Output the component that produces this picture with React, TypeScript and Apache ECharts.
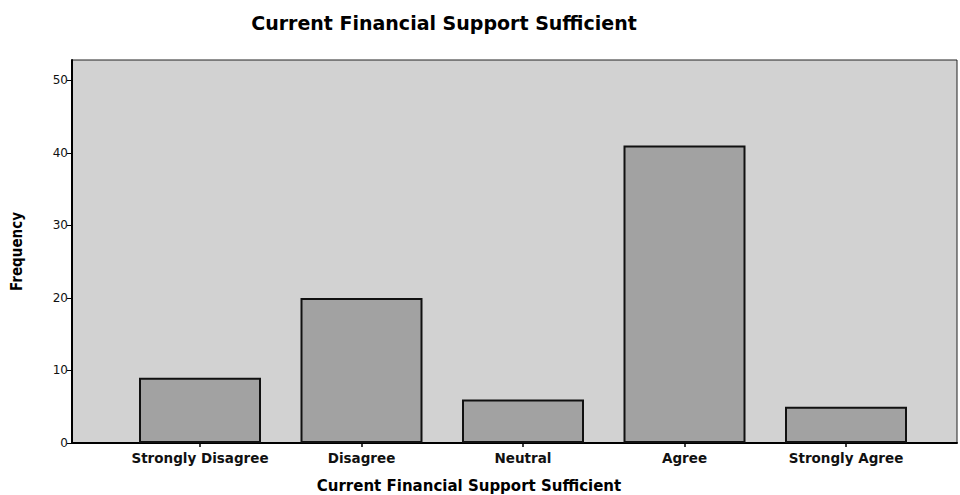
import React, { useEffect, useRef } from "react";
import * as echarts from "echarts";

const categories = ["Strongly Disagree", "Disagree", "Neutral", "Agree", "Strongly Agree"];
const frequencies = [9, 20, 6, 41, 5];
const yTicks = [0, 10, 20, 30, 40, 50];
const titleText = "Current Financial Support Sufficient";
const xAxisTitle = "Current Financial Support Sufficient";
const yAxisTitle = "Frequency";

export default function App() {
  const ref = useRef<HTMLDivElement>(null);
  useEffect(() => {
    if (!ref.current) return;
    const chart = echarts.init(ref.current, undefined, { renderer: "svg" });
    const yMax = 52.8;
    chart.setOption({
      animation: false,
      backgroundColor: "#ffffff",
      title: [
        {
          text: titleText,
          left: 439,
          top: 8,
          textAlign: "center",
          textStyle: { fontFamily: "DejaVu Sans", fontWeight: "bold", fontSize: 19, color: "#000" },
        },
        {
          text: xAxisTitle,
          left: 464,
          top: 473,
          textAlign: "center",
          textStyle: { fontFamily: "DejaVu Sans", fontWeight: "bold", fontSize: 15, color: "#000" },
        },
      ],
      grid: [
        { left: 119.25, right: 33.25, top: 60, bottom: 52, show: false },
        {
          left: 72, right: 3, top: 60, bottom: 52, show: true,
          backgroundColor: "#d2d2d2", borderColor: "#222", borderWidth: 1, z: -1,
        },
      ],
      xAxis: [
        {
          type: "category",
          gridIndex: 0,
          data: categories,
          axisLine: { show: false },
          axisTick: { show: true, alignWithLabel: true, length: 4, lineStyle: { color: "#000", width: 1.5 } },
          axisLabel: { fontFamily: "DejaVu Sans", fontWeight: "bold", fontSize: 13.5, color: "#111", margin: 8, interval: 0 },
          splitLine: { show: false },
        },
        {
          type: "value",
          gridIndex: 1,
          min: 0,
          max: 1,
          axisLine: { show: true, lineStyle: { color: "#000", width: 2 } },
          axisTick: { show: false },
          axisLabel: { show: false },
          splitLine: { show: false },
        },
      ],
      yAxis: [
        {
          type: "value",
          gridIndex: 0,
          min: 0,
          max: yMax,
          show: false,
          splitLine: { show: false },
        },
        {
          type: "value",
          gridIndex: 1,
          min: 0,
          max: yMax,
          interval: 10,
          name: yAxisTitle,
          nameLocation: "middle",
          nameRotate: 90,
          nameGap: 48,
          nameTextStyle: {
            fontFamily: "Liberation Sans Narrow, DejaVu Sans Condensed, sans-serif",
            fontWeight: "bold",
            fontSize: 15,
            color: "#000",
          },
          axisLine: { show: true, lineStyle: { color: "#000", width: 2 } },
          axisTick: { show: true, length: 5, lineStyle: { color: "#000", width: 1 }, customValues: yTicks },
          axisLabel: {
            fontFamily: "DejaVu Sans",
            fontSize: 12,
            color: "#111",
            margin: 4,
            customValues: yTicks,
          },
          splitLine: { show: false },
        },
      ],
      series: [
        {
          type: "bar",
          xAxisIndex: 0,
          yAxisIndex: 0,
          data: frequencies,
          barWidth: 122,
          itemStyle: { color: "#a2a2a2", borderColor: "#111", borderWidth: 2 },
        },
      ],
    });
    return () => chart.dispose();
  }, []);
  return <div ref={ref} style={{ width: 960, height: 495, position: "absolute", left: 0, top: 0 }} />;
}
